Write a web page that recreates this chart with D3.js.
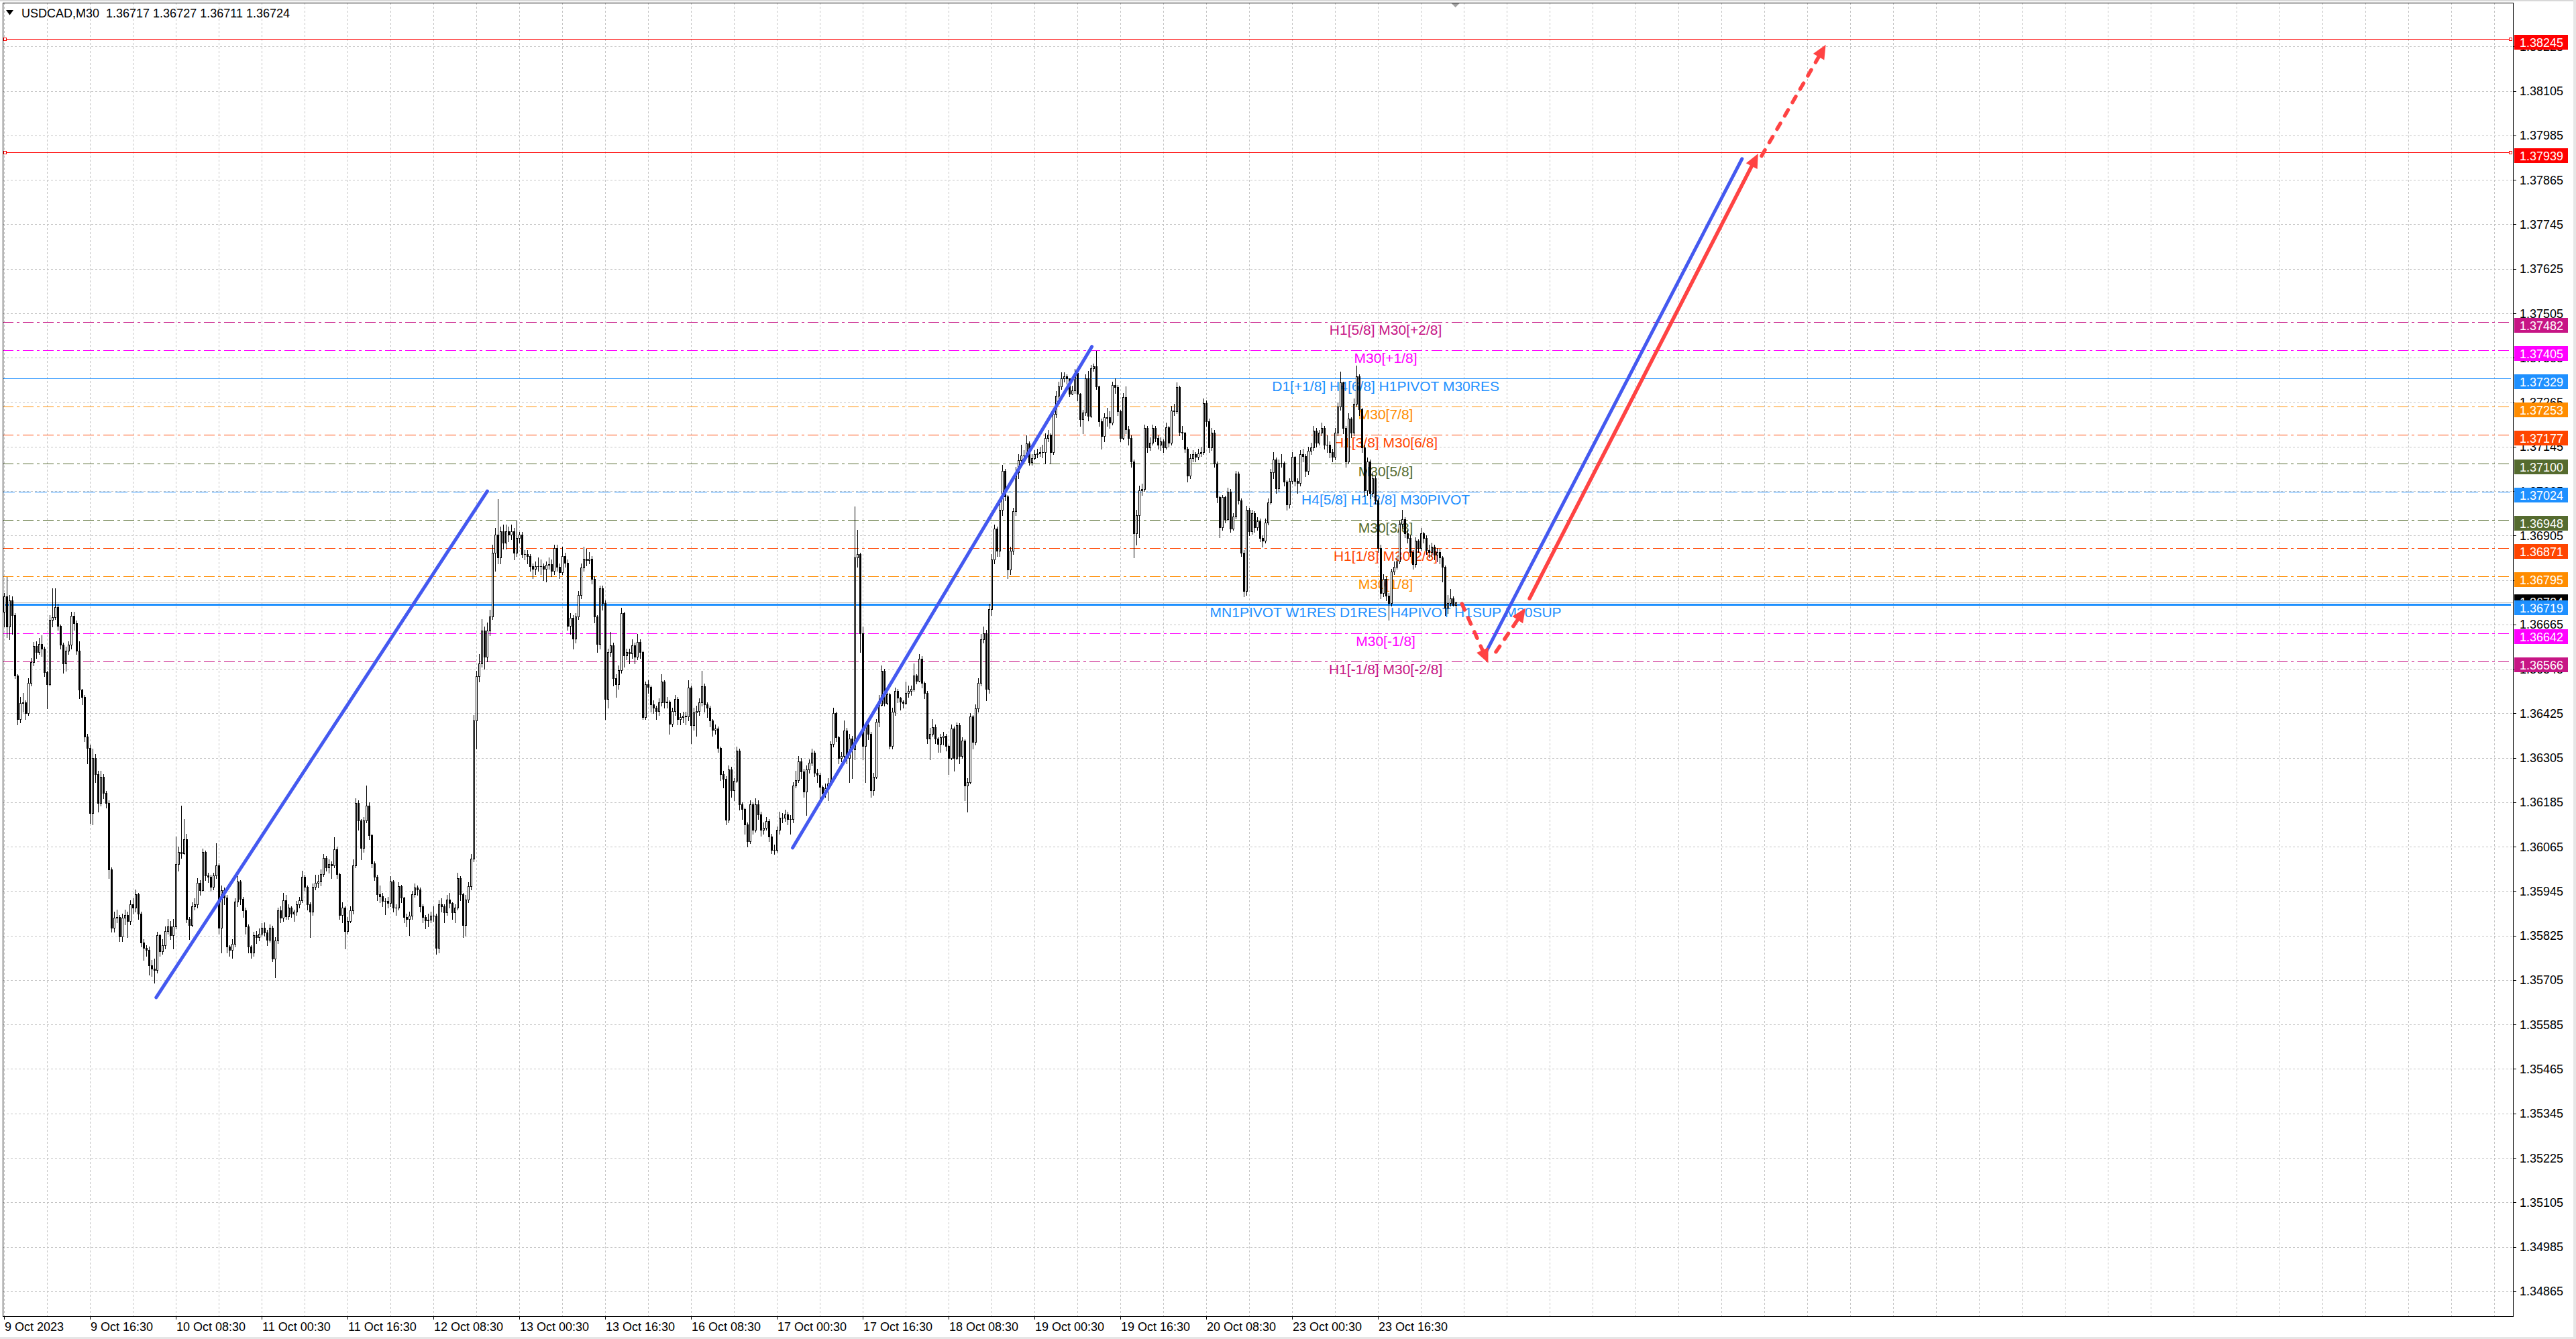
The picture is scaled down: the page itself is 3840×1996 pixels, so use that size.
<!DOCTYPE html>
<html>
<head>
<meta charset="utf-8">
<script src="https://cdn.jsdelivr.net/npm/d3@7/dist/d3.min.js"></script>
<style>
html, body { margin: 0; padding: 0; background: #fff; }
svg { display: block; }
text { font-family: "Liberation Sans", Arial, sans-serif; }
</style>
</head>
<body>
<script>
// USDCAD M30 candles, prices stored as points above 1.30000 (1 point = 0.00001)
// open of each bar = close of the previous bar
var firstOpen = 6700;

var closes = [
  6740,6660,6730,6690,6528,6410,6453,6455,6426,6508, 6563,6606,6590,6612,6600,6536,6504,6677,6685,6712,
  6661,6610,6559,6595,6610,6689,6669,6595,6489,6469, 6363,6332,6155,6304,6261,6183,6253,6210,6183,6003,
  5846,5873,5875,5822,5873,5880,5865,5909,5901,5936, 5885,5807,5791,5787,5744,5736,5732,5826,5783,5799,
  5838,5850,5826,5850,6018,6050,6048,6085,5869,5854, 5905,5909,5967,5948,6050,5987,5983,5956,5987,6014,
  5846,5948,5928,5795,5787,5803,5916,5971,5924,5893, 5850,5795,5779,5826,5820,5830,5846,5834,5814,5846,
  5763,5811,5893,5873,5920,5877,5901,5885,5889,5909, 5920,5983,5956,5909,5889,5956,5967,5971,5991,6034,
  6010,6018,6014,6058,5991,5881,5901,5838,5865,5893, 6014,6183,6136,6061,6136,6175,6097,6020,5984,5936,
  5932,5918,5918,5914,5971,5901,5901,5958,5927,5875, 5870,5879,5936,5954,5950,5905,5875,5866,5868,5879,
  5879,5791,5910,5905,5888,5923,5914,5888,5901,5980, 5936,5853,5923,5958,6033,6406,6525,6560,6648,6577,
  6648,6687,6858,6907,6845,6916,6885,6916,6907,6917, 6858,6898,6907,6854,6854,6850,6823,6815,6823,6823,
  6823,6815,6826,6828,6810,6872,6821,6806,6850,6832, 6661,6683,6626,6687,6744,6819,6843,6838,6843,6788,
  6687,6612,6762,6722,6463,6590,6608,6520,6503,6542, 6696,6582,6590,6586,6608,6577,6617,6590,6415,6503,
  6496,6450,6441,6432,6454,6511,6454,6456,6397,6432, 6463,6410,6414,6418,6416,6494,6393,6428,6432,6454,
  6498,6450,6441,6406,6380,6384,6331,6261,6248,6138, 6274,6217,6243,6324,6180,6167,6125,6079,6180,6111,
  6180,6153,6111,6116,6134,6093,6056,6056,6111,6144, 6144,6153,6139,6139,6231,6245,6296,6268,6213,6273,
  6291,6319,6264,6259,6227,6208,6222,6236,6342,6425, 6360,6305,6310,6379,6305,6356,6328,6845,6854,6642,
  6337,6393,6370,6217,6254,6402,6448,6540,6453,6476, 6337,6430,6485,6467,6457,6453,6480,6485,6490,6527,
  6513,6573,6508,6480,6356,6370,6388,6356,6342,6360, 6365,6337,6305,6384,6305,6393,6310,6351,6231,6240,
  6416,6347,6439,6508,6624,6642,6490,6707,6840,6923, 6864,6974,7080,7011,6813,6864,6970,7076,7108,7122,
  7122,7154,7103,7113,7124,7127,7131,7130,7168,7177, 7131,7233,7283,7307,7330,7334,7330,7288,7297,7343,
  7288,7219,7237,7330,7228,7357,7362,7307,7214,7173, 7224,7225,7210,
  7311,7305,7240,7169,7279,7192,7169,7104,6911,6960, 7027,7030,7195,7143,7156,7195,7169,7150,7160,7143,
  7198,7156,7243,7240,7305,7185,7182,7140,7066,7114, 7124,7117,7127,7130,7263,7214,7143,7182,7100,7008,
  6927,7008,6949,7024,6924,6956,7072,7000,6859,6756, 6975,6917,6966,6927,6943,6898,6891,6940,6995,7075,
  7111,7033,7101,7101,7050,6988,7053,7117,7053,7046, 7124,7120,7079,7133,7143,7188,7156,7182,7195,7150,
  7150,7130,7117,7182,7253,7318,7195,7104,7221,7182, 7260,7334,7246,7143,7027,7104,7020,7060,7000,6872,
  6749,6788,6743,6723,6807,6820,6835,6936,6949,6911, 6898,6860,6827,6891,6872,6911,6898,6865,6860,6875,
  6853,6860,6845,6820,6710,6723,6736,6717,6724
];

var highs = [
  6750,6794,6745,6740,6695,6530,6470,6480,6460,6520, 6575,6618,6620,6628,6635,6605,6540,6690,6763,6763,
  6720,6665,6615,6605,6620,6700,6700,6675,6620,6490, 6475,6370,6340,6330,6315,6270,6270,6260,6215,6190,
  6010,5890,5895,5880,5885,5895,5890,5920,5925,5950, 5940,5890,5815,5800,5795,5760,5763,5835,5830,5815,
  5850,5870,5865,5870,6093,6065,6175,6140,6100,5875, 5915,5925,5980,5975,6060,6055,5995,5990,5995,6075,
  6020,5960,5955,5935,5800,5815,5925,5985,5975,5930, 5900,5855,5800,5835,5838,5845,5858,5860,5840,5855,
  5852,5820,5900,5905,5940,5935,5910,5905,5895,5918, 5930,6000,5990,5960,5915,5965,5990,5990,6003,6045,
  6040,6030,6025,6090,6065,5995,5915,5905,5875,5905, 6030,6195,6190,6140,6145,6230,6185,6100,6025,5990,
  5960,5940,5925,5930,5985,5975,5910,5970,5962,5930, 5885,5890,5945,5965,5960,5955,5910,5880,5885,5890,
  5905,5885,5920,5925,5910,5935,5940,5915,5910,5995, 5985,5940,5935,5970,6045,6420,6540,6585,6680,6660,
  6670,6705,6880,6925,7003,6930,6935,6935,6930,6935, 6925,6945,6915,6915,6865,6865,6855,6830,6835,6845,
  6840,6830,6835,6845,6840,6880,6880,6830,6875,6858, 6840,6695,6690,6695,6755,6830,6875,6870,6860,6850,
  6795,6690,6770,6770,6730,6600,6645,6615,6530,6555, 6710,6700,6600,6600,6625,6615,6640,6625,6595,6510,
  6515,6500,6460,6445,6465,6530,6515,6470,6460,6440, 6475,6470,6425,6430,6430,6515,6500,6440,6445,6465,
  6540,6505,6455,6445,6410,6395,6390,6335,6270,6255, 6285,6280,6250,6335,6330,6185,6170,6130,6190,6185,
  6195,6190,6160,6130,6145,6140,6100,6070,6120,6160, 6155,6165,6160,6150,6240,6270,6310,6305,6275,6285,
  6300,6330,6325,6275,6265,6230,6235,6250,6350,6440, 6430,6365,6320,6405,6385,6370,6365,6983,6920,6858,
  6660,6400,6400,6375,6265,6410,6475,6555,6545,6490, 6480,6440,6495,6490,6470,6460,6510,6500,6500,6560,
  6530,6585,6580,6510,6485,6385,6410,6395,6360,6370, 6375,6370,6340,6395,6390,6400,6398,6360,6355,6250,
  6425,6420,6450,6520,6640,6660,6650,6720,6855,6935, 6930,6990,7095,7085,7015,6875,6980,7090,7125,7150,
  7135,7175,7160,7125,7135,7140,7145,7150,7180,7190, 7180,7240,7295,7320,7345,7345,7340,7325,7310,7355,
  7348,7290,7245,7340,7350,7365,7370,7403,7310,7220, 7235,7250,7240,
  7320,7330,7312,7245,7290,7308,7200,7175,7110,6975, 7040,7045,7205,7200,7170,7205,7200,7175,7170,7165,
  7210,7200,7255,7260,7318,7310,7200,7185,7145,7125, 7135,7130,7140,7145,7275,7270,7220,7195,7190,7105,
  7012,7015,7012,7035,7030,6965,7080,7078,7005,6865, 6985,6980,6975,6970,6955,6950,6905,6950,7005,7085,
  7130,7115,7110,7125,7105,7055,7060,7130,7120,7060, 7135,7140,7125,7145,7155,7200,7195,7190,7210,7200,
  7175,7160,7140,7195,7265,7347,7320,7200,7235,7225, 7275,7363,7340,7250,7150,7115,7110,7075,7065,7005,
  6880,6800,6795,6750,6815,6835,6850,6945,6975,6955, 6920,6905,6865,6900,6895,6925,6915,6905,6880,6885,
  6880,6872,6870,6850,6825,6745,6760,6740,6727
];

var lows = [
  6660,6630,6625,6640,6520,6395,6400,6430,6410,6420, 6500,6555,6575,6585,6580,6525,6438,6500,6660,6680,
  6650,6600,6535,6540,6585,6600,6650,6585,6465,6450, 6350,6290,6128,6125,6240,6160,6175,6195,6170,5980,
  5835,5835,5860,5810,5810,5855,5820,5855,5885,5890, 5870,5795,5760,5770,5720,5715,5697,5725,5770,5775,
  5790,5830,5815,5790,5845,6000,6035,6045,5860,5815, 5850,5895,5900,5935,5945,5975,5970,5945,5950,5980,
  5830,5780,5910,5780,5770,5765,5795,5905,5910,5875, 5830,5780,5765,5770,5805,5812,5825,5825,5800,5808,
  5755,5713,5805,5860,5865,5870,5870,5875,5865,5880, 5900,5915,5945,5895,5820,5880,5950,5955,5960,5985,
  6000,5995,5980,6010,5980,5870,5860,5790,5830,5860, 5885,6010,6110,6030,6050,6130,6085,6010,5975,5920,
  5915,5905,5883,5900,5905,5890,5880,5895,5915,5860, 5850,5826,5870,5930,5935,5890,5860,5845,5850,5860,
  5865,5775,5780,5890,5860,5880,5900,5870,5860,5895, 5920,5820,5825,5915,5950,6025,6330,6510,6550,6545,
  6565,6635,6680,6810,6830,6830,6870,6870,6890,6895, 6840,6850,6885,6845,6840,6830,6810,6790,6800,6810,
  6800,6785,6780,6815,6795,6800,6810,6790,6800,6820, 6650,6640,6600,6615,6680,6735,6810,6825,6830,6775,
  6670,6590,6600,6705,6410,6440,6580,6500,6470,6490, 6535,6550,6570,6560,6575,6560,6570,6575,6410,6410,
  6480,6430,6425,6410,6420,6445,6440,6440,6370,6390, 6420,6395,6395,6400,6395,6405,6345,6380,6365,6420,
  6445,6430,6415,6390,6365,6370,6320,6245,6225,6125, 6130,6200,6190,6240,6165,6140,6100,6065,6075,6100,
  6105,6140,6095,6100,6110,6080,6048,6045,6050,6100, 6130,6135,6125,6100,6130,6225,6240,6250,6200,6150,
  6265,6285,6255,6240,6180,6195,6200,6190,6230,6335, 6350,6290,6295,6300,6290,6240,6250,6300,6820,6590,
  6300,6240,6355,6200,6205,6250,6390,6445,6445,6450, 6330,6330,6420,6455,6435,6440,6450,6470,6475,6485,
  6505,6510,6495,6465,6345,6300,6365,6345,6320,6320, 6340,6325,6260,6300,6270,6300,6290,6305,6190,6160,
  6235,6330,6340,6430,6500,6615,6460,6480,6690,6830, 6850,6850,6960,7000,6790,6800,6855,6960,7060,7100,
  7100,7115,7095,7095,7110,7115,7120,7115,7100,7160, 7100,7125,7225,7270,7300,7320,7315,7280,7285,7290,
  7270,7200,7180,7230,7215,7225,7350,7300,7200,7140, 7160,7200,7195,
  7205,7290,7230,7160,7165,7180,7150,7090,6846,6880, 6900,7015,7025,7130,7135,7150,7160,7140,7135,7130,
  7140,7145,7150,7230,7235,7175,7165,7130,7050,7060, 7105,7105,7110,7120,7125,7200,7130,7135,7090,6995,
  6900,6920,6940,6945,6915,6920,6950,6990,6850,6740, 6745,6905,6910,6915,6920,6890,6875,6885,6935,6990,
  7060,7020,7025,7090,7040,6975,6980,7045,7040,7020, 7040,7105,7065,7070,7125,7135,7145,7150,7175,7140,
  7130,7115,7105,7110,7175,7245,7180,7090,7100,7170, 7175,7255,7230,7130,7010,7015,7005,7010,6990,6860,
  6735,6740,6730,6678,6715,6800,6815,6830,6925,6900, 6885,6850,6815,6820,6860,6865,6885,6855,6845,6850,
  6840,6835,6830,6780,6690,6695,6715,6715,6711
];

// time axis labels, one every 32 bars
var timeLabels = ["9 Oct 2023", "9 Oct 16:30", "10 Oct 08:30", "11 Oct 00:30", "11 Oct 16:30",
  "12 Oct 08:30", "13 Oct 00:30", "13 Oct 16:30", "16 Oct 08:30", "17 Oct 00:30", "17 Oct 16:30",
  "18 Oct 08:30", "19 Oct 00:30", "19 Oct 16:30", "20 Oct 08:30", "23 Oct 00:30", "23 Oct 16:30"];

// price axis ticks
var priceTicks = [1.34865, 1.34985, 1.35105, 1.35225, 1.35345, 1.35465, 1.35585, 1.35705, 1.35825,
  1.35945, 1.36065, 1.36185, 1.36305, 1.36425, 1.36545, 1.36665, 1.36785, 1.36905, 1.37025, 1.37145,
  1.37265, 1.37385, 1.37505, 1.37625, 1.37745, 1.37865, 1.37985, 1.38105, 1.38225];

// horizontal levels (murrey math / pivots) and their names
var levelPrices = [1.38245, 1.37939, 1.37482, 1.37405, 1.37329, 1.37253, 1.37177, 1.37100,
  1.37024, 1.36948, 1.36871, 1.36795, 1.36719, 1.36642, 1.36566];
var levelNames = ["", "", "H1[5/8] M30[+2/8]", "M30[+1/8]", "D1[+1/8] H4[6/8] H1PIVOT M30RES",
  "M30[7/8]", "H1[3/8] M30[6/8]", "M30[5/8]", "H4[5/8] H1[2/8] M30PIVOT", "M30[3/8]",
  "H1[1/8] M30[2/8]", "M30[1/8]", "MN1PIVOT W1RES D1RES H4PIVOT H1SUP M30SUP", "M30[-1/8]",
  "H1[-1/8] M30[-2/8]"];
var bidPrice = 1.36724;

// header: symbol and last bar OHLC
var symbolName = "USDCAD,M30";
var lastOHLC = ["1.36717", "1.36727", "1.36711", "1.36724"];

// drawn objects as [bar0, price0, bar1, price1]
var blueLines = [
  [56.8, 1.35658, 180.2, 1.37025],
  [294.0, 1.36062, 405.5, 1.37415],
  [552.0, 1.36585, 647.8, 1.37922]
];
var redArrows = [
  [543.4, 1.36721, 553.2, 1.36561],
  [556.1, 1.36591, 567.1, 1.36709],
  [568.6, 1.36735, 653.8, 1.37936],
  [655.1, 1.37930, 679.0, 1.38230]
];
var redArrowDashed = [true, true, false, true];

// ---- styles ----
var levelColors = ["#ff0000", "#ff0000", "#c71585", "#ff00ff", "#1e90ff", "#ff8c00", "#ff4500",
  "#556b2f", "#1e90ff", "#556b2f", "#ff4500", "#ff8c00", "#1e90ff", "#ff00ff", "#c71585"];
var levelDash = ["", "", "16,5,4,5", "16,5,4,5", "", "16,5,4,5", "16,5,4,5", "16,5,4,5", "18,6",
  "16,5,4,5", "16,5,4,5", "16,5,4,5", "", "16,5,4,5", "16,5,4,5"];
var levelWidth = [1, 1, 1, 1, 1, 1, 1, 1, 1, 1, 1, 1, 3, 1, 1];

var W = 3840, H = 1996;
var plot = {left: 4, right: 3746, top: 4, bottom: 1962};

var toPrice = function(v) { return 1.3 + v / 100000; };

var bars = closes.map(function(c, i) {
  var o = i === 0 ? firstOpen : closes[i - 1];
  return {i: i, o: toPrice(o), h: toPrice(Math.max(highs[i], o, c)),
          l: toPrice(Math.min(lows[i], o, c)), c: toPrice(c)};
});

// 4 px per bar, like MT4 zoom level
var x = d3.scaleLinear().domain([0, 100]).range([5.6, 405.6]);
var y = d3.scaleLinear().domain([1.38105, 1.34865]).range([135.7, 1924.8]);

var svg = d3.select("body").append("svg").attr("width", W).attr("height", H);

svg.append("rect").attr("width", W).attr("height", H).attr("fill", "#fff");

// window frame
svg.append("rect").attr("x", 0).attr("y", 0).attr("width", W).attr("height", 2).attr("fill", "#d8d8d8");
svg.append("rect").attr("x", W - 4).attr("y", 0).attr("width", 4).attr("height", H).attr("fill", "#e6e6e6");
svg.append("rect").attr("x", 0).attr("y", H - 3).attr("width", W).attr("height", 3).attr("fill", "#e6e6e6");

var crisp = function(v) { return Math.round(v) + 0.5; };

// grid
var grid = svg.append("g").attr("stroke", "#c4c4c4").attr("stroke-dasharray", "3,3")
  .attr("shape-rendering", "crispEdges");
priceTicks.forEach(function(t) {
  grid.append("line").attr("x1", plot.left).attr("x2", plot.right)
    .attr("y1", crisp(y(t))).attr("y2", crisp(y(t)));
});
for (var k = 0; x(k * 16) < plot.right; k++) {
  grid.append("line").attr("x1", crisp(x(k * 16))).attr("x2", crisp(x(k * 16)))
    .attr("y1", plot.top).attr("y2", plot.bottom);
}

// bid line
svg.append("line").attr("x1", plot.left).attr("x2", plot.right)
  .attr("y1", crisp(y(bidPrice))).attr("y2", crisp(y(bidPrice)))
  .attr("stroke", "#c0c0c0").attr("shape-rendering", "crispEdges");

// level lines
var levels = svg.append("g");
levelPrices.forEach(function(p, j) {
  var yy = levelWidth[j] === 1 ? crisp(y(p)) : Math.round(y(p));
  levels.append("line").attr("x1", plot.left).attr("x2", plot.right - 3)
    .attr("y1", yy).attr("y2", yy)
    .attr("stroke", levelColors[j]).attr("stroke-width", levelWidth[j])
    .attr("stroke-dasharray", levelDash[j] || null)
    .attr("shape-rendering", "crispEdges");
  if (levelColors[j] === "#ff0000") {
    [plot.left + 1, plot.right - 6].forEach(function(sx) {
      levels.append("rect").attr("x", sx + 0.5).attr("y", yy - 2).attr("width", 4).attr("height", 4)
        .attr("fill", "#fff").attr("stroke", "#ff0000").attr("shape-rendering", "crispEdges");
    });
  }
});

// level names
levelPrices.forEach(function(p, j) {
  if (!levelNames[j]) return;
  levels.append("text").attr("x", x(515)).attr("y", y(p) + 19)
    .attr("text-anchor", "middle").attr("font-size", 21)
    .attr("fill", levelColors[j]).text(levelNames[j]);
});

// candles
var candles = svg.append("g").attr("shape-rendering", "crispEdges");
bars.forEach(function(d) {
  var cx = Math.round(x(d.i));
  candles.append("line").attr("x1", cx + 0.5).attr("x2", cx + 0.5)
    .attr("y1", Math.round(y(d.h))).attr("y2", Math.round(y(d.l)) + 1).attr("stroke", "#000");
  var top = Math.round(y(Math.max(d.o, d.c))), bot = Math.round(y(Math.min(d.o, d.c)));
  if (d.c > d.o) {
    candles.append("rect").attr("x", cx - 0.5).attr("y", top + 0.5)
      .attr("width", 2).attr("height", Math.max(bot - top, 1))
      .attr("fill", "#fff").attr("stroke", "#000");
  } else if (d.c < d.o) {
    candles.append("rect").attr("x", cx - 1).attr("y", top)
      .attr("width", 3).attr("height", Math.max(bot - top + 1, 1)).attr("fill", "#000");
  } else {
    candles.append("rect").attr("x", cx - 1).attr("y", top)
      .attr("width", 3).attr("height", 1).attr("fill", "#000");
  }
});

// trend lines
var objs = svg.append("g");
blueLines.forEach(function(l) {
  objs.append("line").attr("x1", x(l[0])).attr("y1", y(l[1])).attr("x2", x(l[2])).attr("y2", y(l[3]))
    .attr("stroke", "#4459f0").attr("stroke-width", 5).attr("stroke-linecap", "round");
});

// red arrows
redArrows.forEach(function(a, j) {
  var x0 = x(a[0]), y0 = y(a[1]), x1 = x(a[2]), y1 = y(a[3]);
  var len = Math.hypot(x1 - x0, y1 - y0), ux = (x1 - x0) / len, uy = (y1 - y0) / len;
  var head = 21, half = 9.5;
  var bx = x1 - ux * head, by = y1 - uy * head;
  objs.append("line").attr("x1", x0).attr("y1", y0).attr("x2", bx + ux * 2).attr("y2", by + uy * 2)
    .attr("stroke", "#ff4343").attr("stroke-width", 5.5).attr("stroke-linecap", "round")
    .attr("stroke-dasharray", redArrowDashed[j] ? "10,13" : null);
  objs.append("path")
    .attr("d", "M" + x1 + "," + y1 + "L" + (bx - uy * half) + "," + (by + ux * half) +
               "L" + (bx + uy * half) + "," + (by - ux * half) + "Z")
    .attr("fill", "#ff4343");
});

// plot border
svg.append("rect").attr("x", plot.left + 0.5).attr("y", plot.top + 0.5)
  .attr("width", plot.right - plot.left).attr("height", plot.bottom - plot.top)
  .attr("fill", "none").attr("stroke", "#000").attr("shape-rendering", "crispEdges");

// chart shift marker
var sx = x(bars.length - 1);
svg.append("path").attr("d", "M" + (sx - 6) + ",5L" + (sx + 6) + ",5L" + sx + ",11Z").attr("fill", "#a0a0a0");

// price axis
var axisR = svg.append("g");
priceTicks.forEach(function(t) {
  axisR.append("line").attr("x1", plot.right).attr("x2", plot.right + 5)
    .attr("y1", crisp(y(t))).attr("y2", crisp(y(t))).attr("stroke", "#000")
    .attr("shape-rendering", "crispEdges");
  axisR.append("text").attr("x", 3756).attr("y", y(t) + 6.5).attr("font-size", 18)
    .attr("fill", "#000").text(t.toFixed(5));
});

// bid label (mostly hidden under the blue level label)
axisR.append("rect").attr("x", 3748).attr("y", Math.round(y(bidPrice)) - 12).attr("width", 80).attr("height", 22)
  .attr("fill", "#000");
axisR.append("text").attr("x", 3756).attr("y", y(bidPrice) + 6).attr("font-size", 18)
  .attr("fill", "#fff").text(bidPrice.toFixed(5));

levelPrices.forEach(function(p, j) {
  var yy = Math.round(y(p));
  axisR.append("rect").attr("x", 3748).attr("y", yy - 6).attr("width", 80).attr("height", 22)
    .attr("fill", levelColors[j]);
  axisR.append("text").attr("x", 3756).attr("y", yy + 12).attr("font-size", 18)
    .attr("fill", "#fff").text(p.toFixed(5));
});

// time axis
var axisB = svg.append("g");
timeLabels.forEach(function(s, k) {
  var tx = Math.round(x(k * 32));
  axisB.append("line").attr("x1", tx + 0.5).attr("x2", tx + 0.5)
    .attr("y1", plot.bottom).attr("y2", plot.bottom + 5).attr("stroke", "#000")
    .attr("shape-rendering", "crispEdges");
  axisB.append("text").attr("x", tx + 1).attr("y", 1984).attr("font-size", 18)
    .attr("fill", "#000").text(s);
});

// header
svg.append("path").attr("d", "M9,15L20,15L14.5,22.5Z").attr("fill", "#000");
svg.append("text").attr("x", 32).attr("y", 25.5).attr("font-size", 18).attr("fill", "#000")
  .attr("xml:space", "preserve")
  .text(symbolName + "  " + lastOHLC.join(" "));
</script>
</body>
</html>
